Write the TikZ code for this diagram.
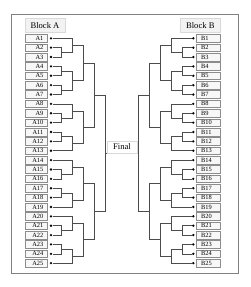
\documentclass[tikz,border=0pt]{standalone}
\usepackage{fontspec}
\setmainfont{Liberation Serif}
\usetikzlibrary{positioning, calc}

% elbow join: level, child 1, child 2, name of the join point
\newcommand{\elbow}[4]{%
  \path let \p1=(#2), \p2=(#3), \p3=(#1) in (\x3,{0.5*\y1+0.5*\y2}) coordinate (#4);
  \draw[link] (#2) -- (#2 -| #1) -- (#3 -| #1) -- (#3);}

\begin{document}
\begin{tikzpicture}[x=1pt,y=-1pt,frame/.style={draw=black!50,line width=0.7pt},heading/.style={draw=black!15,fill=black!5,minimum width=40pt,minimum height=14pt,inner sep=0pt,font=\fontsize{8.6}{10}\selectfont},leafA/.style={draw=black!45,fill=black!3,line width=0.5pt,text width=14.3pt,align=right,inner xsep=4pt,inner ysep=0pt,minimum height=7.6pt,font=\fontsize{6.4}{7}\selectfont},leafB/.style={leafA,text width=14.3pt,inner xsep=4.5pt,align=left},dot/.style={circle,fill=black,inner sep=0pt,minimum size=2.6pt},link/.style={draw=black!70,line width=0.6pt},finbox/.style={draw=black!15,fill=white,minimum width=30.6pt,minimum height=11.6pt,inner sep=0pt,font=\fontsize{8.6}{10}\selectfont}]
\useasboundingbox (0,0) rectangle (250,287);
\draw[frame] (11.7,14) rectangle (238.3,273.3);
\node[heading] (headA) at (45,25.3) {Block A};
\node[heading] (headB) at (200.3,25.3) {Block B};
% levels of the two trees
\foreach \n/\xa/\xb in {1/61.5/181.8,2/72.2/170.9,3/83.2/160.5,4/94.2/149.5,5/105/138.5}{
  \coordinate (LA\n) at (\xa,0); \coordinate (LB\n) at (\xb,0);}
% leaves
\foreach \i in {1,...,25}{
  \pgfmathsetmacro\yy{38.3+9.37*(\i-1)}
  \node[leafA] (A\i) at (36.2,\yy) {A\i};
  \node[dot] (dA\i) at (51,\yy) {};
  \node[leafB] (B\i) at (208.3,\yy) {B\i};
  \node[dot] (dB\i) at (193.3,\yy) {};}
% joins
\foreach \s in {A,B}{
  \elbow{L\s1}{d\s2}{d\s3}{j\s23}
  \elbow{L\s2}{d\s1}{j\s23}{j\s13}
  \elbow{L\s1}{d\s4}{d\s5}{j\s45}
  \elbow{L\s1}{d\s6}{d\s7}{j\s67}
  \elbow{L\s2}{j\s45}{j\s67}{j\s47}
  \elbow{L\s3}{j\s13}{j\s47}{j\s17}
  \elbow{L\s1}{d\s9}{d\s10}{j\s910}
  \elbow{L\s2}{d\s8}{j\s910}{j\s810}
  \elbow{L\s1}{d\s11}{d\s12}{j\s1112}
  \elbow{L\s2}{j\s1112}{d\s13}{j\s1113}
  \elbow{L\s3}{j\s810}{j\s1113}{j\s813}
  \elbow{L\s4}{j\s17}{j\s813}{j\s113}
  \elbow{L\s1}{d\s15}{d\s16}{j\s1516}
  \elbow{L\s2}{d\s14}{j\s1516}{j\s1416}
  \elbow{L\s1}{d\s17}{d\s18}{j\s1718}
  \elbow{L\s2}{j\s1718}{d\s19}{j\s1719}
  \elbow{L\s3}{j\s1416}{j\s1719}{j\s1419}
  \elbow{L\s1}{d\s21}{d\s22}{j\s2122}
  \elbow{L\s2}{d\s20}{j\s2122}{j\s2022}
  \elbow{L\s1}{d\s23}{d\s24}{j\s2324}
  \elbow{L\s2}{j\s2324}{d\s25}{j\s2325}
  \elbow{L\s3}{j\s2022}{j\s2325}{j\s2025}
  \elbow{L\s4}{j\s1419}{j\s2025}{j\s1425}
  \elbow{L\s5}{j\s113}{j\s1425}{root\s}}
\draw[link] (rootA) -- (rootB);
\node[finbox] (fin) at (122,147) {Final};
\end{tikzpicture}
\end{document}
